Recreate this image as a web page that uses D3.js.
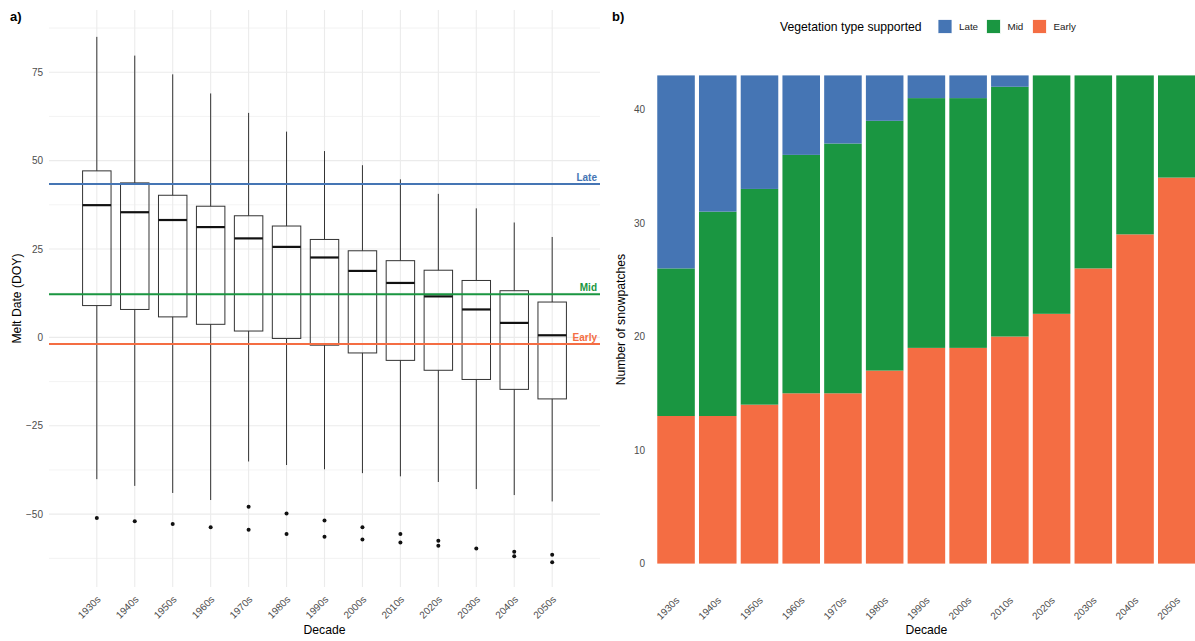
<!DOCTYPE html>
<html>
<head>
<meta charset="utf-8">
<script src="https://cdn.jsdelivr.net/npm/d3@7"></script>
<style>
  html, body { margin: 0; padding: 0; background: #fff; }
  svg { display: block; font-family: "Liberation Sans", Arial, sans-serif; }
</style>
</head>
<body>
<svg id="chart" width="1195" height="641"></svg>
<script>
// ---- Data ----------------------------------------------------------------
const decades = ["1930s","1940s","1950s","1960s","1970s","1980s","1990s",
                 "2000s","2010s","2020s","2030s","2040s","2050s"];

// Melt date (day of year) summary per decade
const whiskerHigh = [85.0, 79.7, 74.4, 69.0, 63.5, 58.2, 52.7, 48.7, 44.7, 40.6, 36.5, 32.5, 28.4];
const upperQuartile = [47.1, 43.7, 40.2, 37.1, 34.4, 31.5, 27.7, 24.5, 21.7, 19.0, 16.1, 13.2, 10.0];
const medianDOY = [37.4, 35.4, 33.2, 31.2, 28.0, 25.6, 22.6, 18.8, 15.4, 11.6, 7.9, 4.1, 0.6];
const lowerQuartile = [9.0, 7.9, 5.8, 3.7, 1.8, -0.3, -2.2, -4.4, -6.5, -9.3, -11.9, -14.7, -17.4];
const whiskerLow = [-40.1, -42.0, -44.0, -46.0, -35.1, -36.1, -37.3, -38.4, -39.3, -40.9, -42.9, -44.6, -46.4];
const outlierDOY = [
  [-51.1], [-52.0], [-52.8], [-53.7], [-47.9, -54.4], [-49.8, -55.6], [-51.8, -56.4],
  [-53.7, -57.2], [-55.6, -58.0], [-57.5, -58.9], [-59.7], [-60.6, -61.9], [-61.5, -63.6]
];

// Melt-date thresholds for each vegetation type
const thresholdNames = ["Late", "Mid", "Early"];
const thresholdDOY = [43.4, 12.2, -1.9];

// Number of snowpatches supporting each vegetation type
const vegTypes = ["Late", "Mid", "Early"];
const earlyCount = [13, 13, 14, 15, 15, 17, 19, 19, 20, 22, 26, 29, 34];
const midCount   = [13, 18, 19, 21, 22, 22, 22, 22, 22, 21, 17, 14, 9];
const lateCount  = [17, 12, 10, 7, 6, 4, 2, 2, 1, 0, 0, 0, 0];

const meltTicks = [-50, -25, 0, 25, 50, 75];
const meltMinorTicks = [-62.5, -37.5, -12.5, 12.5, 37.5, 62.5, 87.5];
const countTicks = [0, 10, 20, 30, 40];

// ---- Styling --------------------------------------------------------------
const vegColour = { Late: "#4575b4", Mid: "#1a9641", Early: "#f46d43" };
const gridColour = "#ebebeb";
const tickColour = "#4d4d4d";
const font = "'Liberation Sans', Arial, sans-serif";

const svg = d3.select("#chart");

// ===== Panel a) : box plots of melt date ===================================
const pa = { left: 49, right: 600, top: 10, bottom: 587 };
const xa = d3.scalePoint().domain(decades).range([pa.left, pa.right]).padding(1.26);
const ya = d3.scaleLinear().domain([-70.6, 92.6]).range([pa.bottom, pa.top]);

const ga = svg.append("g");

// grid
ga.append("g").selectAll("line").data(meltMinorTicks).join("line")
  .attr("x1", pa.left).attr("x2", pa.right)
  .attr("y1", d => ya(d)).attr("y2", d => ya(d))
  .attr("stroke", gridColour).attr("stroke-width", 0.6);
ga.append("g").selectAll("line").data(meltTicks).join("line")
  .attr("x1", pa.left).attr("x2", pa.right)
  .attr("y1", d => ya(d)).attr("y2", d => ya(d))
  .attr("stroke", gridColour).attr("stroke-width", 1.1);
ga.append("g").selectAll("line").data(decades).join("line")
  .attr("x1", d => xa(d)).attr("x2", d => xa(d))
  .attr("y1", pa.top).attr("y2", pa.bottom)
  .attr("stroke", gridColour).attr("stroke-width", 1.1);

// y axis (labels only)
const yAxisA = d3.axisLeft(ya).tickValues(meltTicks).tickSize(0).tickPadding(6);
ga.append("g").attr("transform", `translate(${pa.left},0)`).call(yAxisA)
  .call(g => g.select(".domain").remove())
  .call(g => g.selectAll("text").attr("fill", tickColour)
    .style("font-size", "10px").style("font-family", font));

// x axis (rotated labels)
const xAxisA = d3.axisBottom(xa).tickSize(0).tickPadding(0);
ga.append("g").attr("transform", `translate(0,${pa.bottom})`).call(xAxisA)
  .call(g => g.select(".domain").remove())
  .call(g => g.selectAll("text")
    .attr("fill", tickColour).style("font-size", "10px").style("font-family", font)
    .attr("text-anchor", "end").attr("dy", null).attr("y", 0)
    .attr("transform", "translate(4,13) rotate(-45)"));

// boxes
const boxW = xa.step() * 0.75;
const boxes = ga.append("g").selectAll("g").data(decades).join("g");
boxes.append("line")
  .attr("x1", d => xa(d)).attr("x2", d => xa(d))
  .attr("y1", (d, i) => ya(whiskerHigh[i])).attr("y2", (d, i) => ya(upperQuartile[i]))
  .attr("stroke", "#333").attr("stroke-width", 1);
boxes.append("line")
  .attr("x1", d => xa(d)).attr("x2", d => xa(d))
  .attr("y1", (d, i) => ya(lowerQuartile[i])).attr("y2", (d, i) => ya(whiskerLow[i]))
  .attr("stroke", "#333").attr("stroke-width", 1);
boxes.append("rect")
  .attr("x", d => xa(d) - boxW / 2).attr("width", boxW)
  .attr("y", (d, i) => ya(upperQuartile[i]))
  .attr("height", (d, i) => ya(lowerQuartile[i]) - ya(upperQuartile[i]))
  .attr("fill", "none").attr("stroke", "#333").attr("stroke-width", 1);
boxes.append("line")
  .attr("x1", d => xa(d) - boxW / 2).attr("x2", d => xa(d) + boxW / 2)
  .attr("y1", (d, i) => ya(medianDOY[i])).attr("y2", (d, i) => ya(medianDOY[i]))
  .attr("stroke", "#111").attr("stroke-width", 2.2);
boxes.selectAll("circle").data((d, i) => outlierDOY[i].map(v => ({ d, v }))).join("circle")
  .attr("cx", o => xa(o.d)).attr("cy", o => ya(o.v)).attr("r", 2)
  .attr("fill", "#111");

// threshold lines with labels
const th = ga.append("g").selectAll("g").data(thresholdNames).join("g");
th.append("line")
  .attr("x1", pa.left).attr("x2", pa.right)
  .attr("y1", (d, i) => ya(thresholdDOY[i])).attr("y2", (d, i) => ya(thresholdDOY[i]))
  .attr("stroke", d => vegColour[d]).attr("stroke-width", 2);
th.append("text")
  .attr("x", 597).attr("y", (d, i) => ya(thresholdDOY[i]) - 3)
  .attr("text-anchor", "end").attr("fill", d => vegColour[d])
  .style("font-size", "10px").style("font-weight", "bold").style("font-family", font)
  .text(d => d);

// titles
ga.append("text").attr("x", 10).attr("y", 21)
  .style("font-size", "13px").style("font-weight", "bold").style("font-family", font)
  .text("a)");
ga.append("text").attr("transform", `translate(21,${(pa.top + pa.bottom) / 2}) rotate(-90)`)
  .attr("text-anchor", "middle").style("font-size", "12.2px").style("font-family", font)
  .text("Melt Date (DOY)");
ga.append("text").attr("x", (pa.left + pa.right) / 2).attr("y", 634)
  .attr("text-anchor", "middle").style("font-size", "12.2px").style("font-family", font)
  .text("Decade");

// ===== Panel b) : stacked bars of snowpatch counts ==========================
const pb = { left: 651, right: 1201.8, top: 51, bottom: 588 };
const xb = d3.scaleBand().domain(decades).range([pb.left, pb.right])
  .paddingInner(0.1).paddingOuter(0.15);
const yb = d3.scaleLinear().domain([-2.15, 45.15]).range([pb.bottom, pb.top]);

const countRows = decades.map((d, i) => ({
  decade: d, Early: earlyCount[i], Mid: midCount[i], Late: lateCount[i]
}));
const stack = d3.stack().keys(["Early", "Mid", "Late"])(countRows);

const gb = svg.append("g");
gb.append("g").selectAll("g").data(stack).join("g")
  .attr("fill", s => vegColour[s.key])
  .selectAll("rect").data(s => s).join("rect")
  .attr("x", r => xb(r.data.decade)).attr("width", xb.bandwidth())
  .attr("y", r => yb(r[1])).attr("height", r => yb(r[0]) - yb(r[1]));

const yAxisB = d3.axisLeft(yb).tickValues(countTicks).tickSize(0).tickPadding(6);
gb.append("g").attr("transform", `translate(${pb.left},0)`).call(yAxisB)
  .call(g => g.select(".domain").remove())
  .call(g => g.selectAll("text").attr("fill", tickColour)
    .style("font-size", "10px").style("font-family", font));

const xAxisB = d3.axisBottom(xb).tickSize(0).tickPadding(0);
gb.append("g").attr("transform", `translate(0,${pb.bottom})`).call(xAxisB)
  .call(g => g.select(".domain").remove())
  .call(g => g.selectAll("text")
    .attr("fill", tickColour).style("font-size", "10px").style("font-family", font)
    .attr("text-anchor", "end").attr("dy", null).attr("y", 0)
    .attr("transform", "translate(4,13) rotate(-45)"));

gb.append("text").attr("x", 612).attr("y", 21)
  .style("font-size", "13px").style("font-weight", "bold").style("font-family", font)
  .text("b)");
gb.append("text").attr("transform", `translate(625,${(pb.top + pb.bottom) / 2}) rotate(-90)`)
  .attr("text-anchor", "middle").style("font-size", "12.2px").style("font-family", font)
  .text("Number of snowpatches");
gb.append("text").attr("x", (pb.left + pb.right) / 2).attr("y", 634)
  .attr("text-anchor", "middle").style("font-size", "12.2px").style("font-family", font)
  .text("Decade");

// legend
const lg = svg.append("g");
lg.append("text").attr("x", 780).attr("y", 30.5)
  .style("font-size", "12.2px").style("font-family", font)
  .text("Vegetation type supported");
const keyX = [938, 986.5, 1032.5];
const items = lg.selectAll("g.item").data(vegTypes).join("g").attr("class", "item");
items.append("rect")
  .attr("x", (d, i) => keyX[i]).attr("y", 19.5).attr("width", 14).attr("height", 14)
  .attr("fill", d => vegColour[d]).attr("stroke", "#fff").attr("stroke-width", 0.8);
items.append("text")
  .attr("x", (d, i) => keyX[i] + 21).attr("y", 30)
  .style("font-size", "9.8px").style("font-family", font).attr("fill", "#1a1a1a")
  .text(d => d);
</script>
</body>
</html>
